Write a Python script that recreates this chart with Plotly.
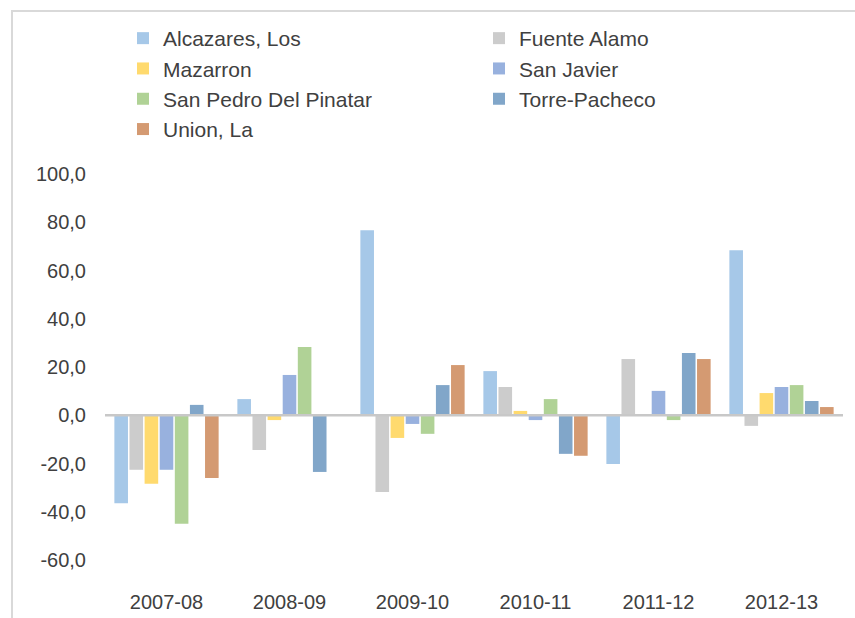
import plotly.graph_objects as go

# Annual variation (%) by municipality
seasons = ["2007-08", "2008-09", "2009-10", "2010-11", "2011-12", "2012-13"]

alcazares_los = [-36.5, 6.7, 76.7, 18.3, -20.2, 68.4]
fuente_alamo = [-22.6, -14.4, -31.8, 11.7, 23.3, -4.4]
mazarron = [-28.4, -2.0, -9.4, 1.8, None, 9.2]
san_javier = [-22.6, 16.7, -3.6, -2.0, 10.1, 11.7]
san_pedro_del_pinatar = [-45.0, 28.3, -7.7, 6.7, -2.0, 12.5]
torre_pacheco = [4.3, -23.5, 12.5, -16.0, 25.8, 5.9]
union_la = [-26.0, None, 20.8, -16.8, 23.3, 3.4]

series = [
    ("Alcazares, Los", alcazares_los, "#A6C8E8"),
    ("Fuente Alamo", fuente_alamo, "#CCCCCC"),
    ("Mazarron", mazarron, "#FFDA6E"),
    ("San Javier", san_javier, "#98B1DE"),
    ("San Pedro Del Pinatar", san_pedro_del_pinatar, "#B0D296"),
    ("Torre-Pacheco", torre_pacheco, "#81A6C9"),
    ("Union, La", union_la, "#D49A72"),
]

y_ticks = [-60, -40, -20, 0, 20, 40, 60, 80, 100]
y_tick_text = [f"{v:.1f}".replace(".", ",") for v in y_ticks]

FONT = "Liberation Sans"
TEXT_COLOR = "#404040"

fig = go.Figure()
for name, values, color in series:
    fig.add_trace(go.Bar(
        name=name,
        x=seasons,
        y=values,
        marker=dict(color=color, line=dict(width=0)),
    ))

W, H = 855, 618
ml, mr, mt, mb = 105, 12, 174, 58

fig.update_layout(
    width=W,
    height=H,
    margin=dict(l=ml, r=mr, t=mt, b=mb, autoexpand=False),
    paper_bgcolor="white",
    plot_bgcolor="white",
    barmode="group",
    bargap=0.14,
    bargroupgap=0.1,
    font=dict(family=FONT, size=20, color=TEXT_COLOR),
    showlegend=True,
    legend=dict(
        orientation="h",
        x=(123 - ml) / (W - ml - mr),
        y=1 - 18 / H,
        xanchor="left",
        yanchor="top",
        yref="container",
        entrywidth=311,
        entrywidthmode="pixels",
        font=dict(family=FONT, size=21, color=TEXT_COLOR),
        itemwidth=30,
        traceorder="normal",
        bgcolor="rgba(0,0,0,0)",
    ),
    xaxis=dict(
        type="category",
        showgrid=False,
        showline=False,
        ticks="",
        tickfont=dict(family=FONT, size=20, color=TEXT_COLOR),
        ticklabelstandoff=28,
    ),
    yaxis=dict(
        range=[-60, 100],
        tickvals=y_ticks,
        ticktext=y_tick_text,
        showgrid=False,
        zeroline=False,
        showline=False,
        ticks="",
        tickfont=dict(family=FONT, size=20, color=TEXT_COLOR),
        ticklabelstandoff=18,
    ),
    shapes=[
        # chart-area border
        dict(type="rect", xref="paper", yref="paper",
             x0=(12 - ml) / (W - ml - mr), x1=(W + 10 - ml) / (W - ml - mr),
             y0=-(mb + 10) / (H - mt - mb), y1=(H - 11 - mb) / (H - mt - mb),
             line=dict(color="#D9D9D9", width=2), layer="below"),
        # horizontal axis line at zero, drawn over the bars
        dict(type="line", xref="paper", yref="y",
             x0=0, x1=1, y0=0, y1=0,
             line=dict(color="#C8C8C8", width=2.5), layer="above"),
    ],
)

fig.write_html("out.html")
